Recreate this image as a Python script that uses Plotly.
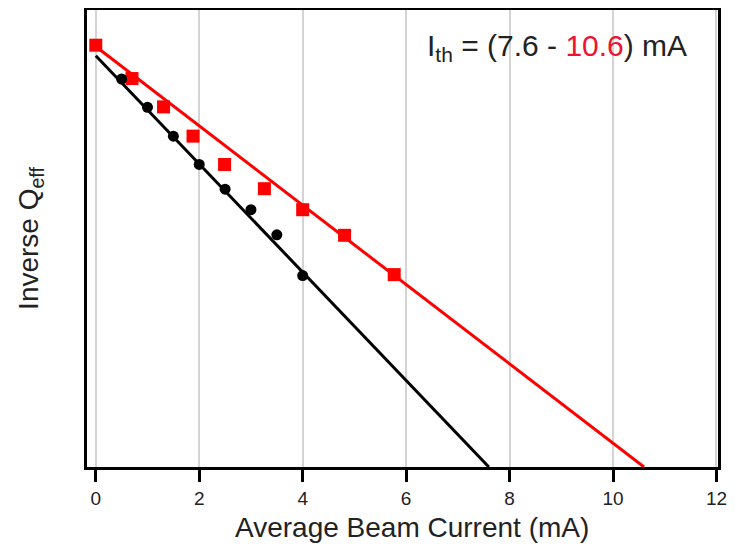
import plotly.graph_objects as go

# Data
red_x = [0.0, 0.70, 1.31, 1.88, 2.49, 3.26, 4.0, 4.81, 5.77]
red_y = [0.923, 0.850, 0.788, 0.724, 0.662, 0.609, 0.563, 0.507, 0.421]
black_x = [0.5, 1.0, 1.5, 2.0, 2.5, 3.0, 3.5, 4.0]
black_y = [0.849, 0.787, 0.724, 0.662, 0.608, 0.563, 0.508, 0.419]
red_fit_x = [0.0, 10.6]
red_fit_y = [0.92, 0.0]
black_fit_x = [0.0, 7.6]
black_fit_y = [0.90, 0.0]
x_ticks = [0, 2, 4, 6, 8, 10, 12]

FONT = "Liberation Sans, Arial, sans-serif"
TXT = "#222222"

fig = go.Figure()
fig.add_trace(go.Scatter(x=red_fit_x, y=red_fit_y, mode="lines",
                         line=dict(color="#ff0000", width=3), showlegend=False))
fig.add_trace(go.Scatter(x=black_fit_x, y=black_fit_y, mode="lines",
                         line=dict(color="#000000", width=3), showlegend=False))
fig.add_trace(go.Scatter(x=red_x, y=red_y, mode="markers",
                         marker=dict(symbol="square", size=13, color="#ff0000"),
                         showlegend=False))
fig.add_trace(go.Scatter(x=black_x, y=black_y, mode="markers",
                         marker=dict(symbol="circle", size=11, color="#000000"),
                         showlegend=False))

fig.update_layout(
    width=724, height=536,
    margin=dict(l=79, r=14, t=2, b=77),
    paper_bgcolor="white", plot_bgcolor="white",
    font=dict(family=FONT, color=TXT),
    xaxis=dict(
        range=[-0.17, 12.03], tickvals=x_ticks, ticktext=[str(v) for v in x_ticks],
        showgrid=True, gridcolor="#d4d4d4", gridwidth=2,
        zeroline=False, showline=True, linecolor="black", linewidth=3, mirror=True,
        ticks="outside", ticklen=12, tickwidth=3, tickcolor="black",
        tickfont=dict(size=19, family=FONT, color=TXT),
        automargin=False,
    ),
    yaxis=dict(
        range=[0, 1], showgrid=False, zeroline=False, showticklabels=False, ticks="",
        showline=True, linecolor="black", linewidth=3, mirror=True,
        title=dict(text="Inverse Q<sub>eff</sub>", font=dict(size=28, family=FONT, color=TXT),
                   standoff=38),
        automargin=False,
    ),
    annotations=[
        dict(
            xref="paper", yref="paper", x=0.745, y=0.918, xanchor="center", yanchor="middle",
            text="I<sub>th</sub> = (7.6 - <span style='color:#f01030'>10.6</span>) mA",
            showarrow=False, font=dict(size=30, family=FONT, color=TXT),
        ),
        dict(
            xref="paper", yref="paper", x=0.515, y=-0.132, xanchor="center", yanchor="middle",
            text="Average Beam Current (mA)",
            showarrow=False, font=dict(size=28, family=FONT, color=TXT),
        ),
    ],
)

fig.write_html("out.html")
